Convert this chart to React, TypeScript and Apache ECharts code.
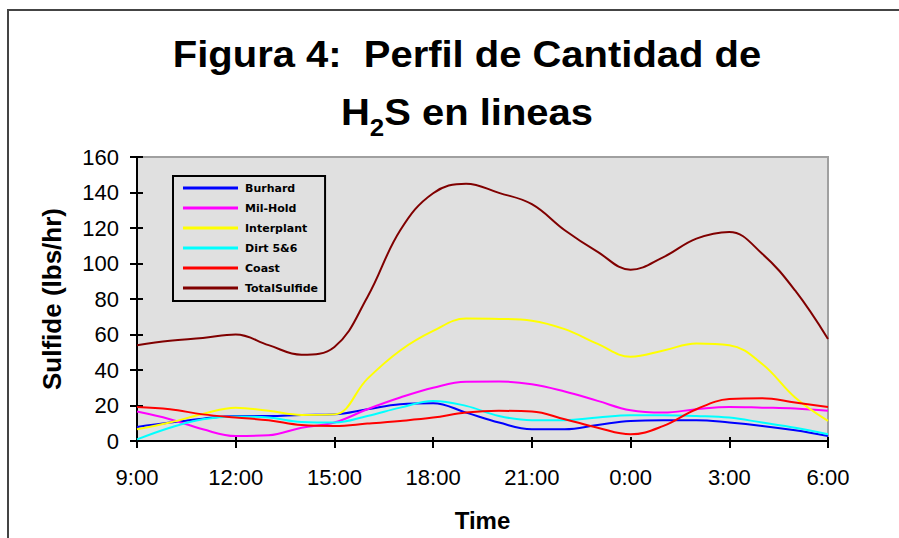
import React, { useEffect, useRef } from "react";
import * as echarts from "echarts";

const hours = [
  "9:00", "10:00", "11:00", "12:00", "13:00", "14:00", "15:00", "16:00",
  "17:00", "18:00", "19:00", "20:00", "21:00", "22:00", "23:00", "0:00",
  "1:00", "2:00", "3:00", "4:00", "5:00", "6:00",
];

const burhard = [7.9, 10.4, 12.6, 14.1, 14.1, 14.7, 15, 17.9, 20.7, 21.3, 16, 10.4, 6.6, 6.6, 9, 11.3, 11.7, 11.7, 10.4, 8.5, 6, 2.8];
const milHold = [16.6, 12.3, 6.6, 2.8, 3.2, 7.5, 10.4, 17.9, 24.5, 30, 33.4, 33.5, 32, 27.9, 22.6, 17.3, 16, 17.9, 19.2, 18.8, 18.3, 17];
const interplant = [6.6, 10.4, 15.2, 18.8, 17, 14.7, 15, 35, 51, 62, 69, 68.8, 67.8, 63, 54.7, 47.5, 51, 55, 54, 43.4, 24.5, 11.3];
const dirt56 = [0.9, 7.5, 12.3, 13.8, 13.2, 10.7, 10.4, 14.1, 18.8, 22.6, 19.8, 14.1, 11.7, 11.7, 13.2, 14.5, 14.5, 14.1, 13.2, 10.4, 7.5, 3.8];
const coast = [19.2, 17.9, 15, 13.2, 11.7, 9, 8.5, 9.8, 11.3, 13.2, 16, 17, 16.6, 12.3, 7.5, 3.8, 8.5, 17.9, 23.6, 24.1, 21.7, 19.2];
const totalSulfide = [54, 56.5, 58, 60, 54, 48.6, 53, 81, 118.7, 139.6, 145, 139.8, 133.4, 118.7, 106.5, 96.5, 103.6, 114, 117.8, 105.5, 84.8, 57.5];

const seriesNames = ["Burhard", "Mil-Hold", "Interplant", "Dirt 5&6", "Coast", "TotalSulfide"];
const seriesData = [burhard, milHold, interplant, dirt56, coast, totalSulfide];
const seriesColors = ["#0000ff", "#ff00ff", "#ffff00", "#00ffff", "#ff0000", "#800000"];

const titleLine1 = "Figura 4:  Perfil de Cantidad de";
const titleLine2a = "H";
const titleSub = "2";
const titleLine2b = "S en lineas";
const xName = "Time";
const yName = "Sulfide (lbs/hr)";

export default function App() {
  const ref = useRef<HTMLDivElement>(null);
  useEffect(() => {
    if (!ref.current) return;
    const chart = echarts.init(ref.current, null, { renderer: "svg" });
    const tickFont = { fontFamily: "Liberation Sans, Arial, sans-serif", fontSize: 22, color: "#000" };
    chart.setOption({
      animation: false,
      backgroundColor: "#ffffff",
      graphic: [
        {
          type: "rect",
          shape: { x: 8, y: 10, width: 1000, height: 1000 },
          style: { fill: "none", stroke: "#444444", lineWidth: 2 },
          silent: true,
        },
        {
          type: "text",
          x: 467,
          y: 36,
          scaleX: 1.08,
          style: {
            text: titleLine1,
            font: "bold 37px 'Liberation Sans', Arial, sans-serif",
            fill: "#000",
            align: "center",
            verticalAlign: "top",
          },
        },
        {
          type: "text",
          x: 467,
          y: 91,
          scaleX: 1.08,
          style: {
            text: `{n|${titleLine2a}}{s|${titleSub}}{n|${titleLine2b}}`,
            fill: "#000",
            align: "center",
            verticalAlign: "top",
            rich: {
              n: { fontFamily: "Liberation Sans, Arial, sans-serif", fontWeight: "bold", fontSize: 37, lineHeight: 40, verticalAlign: "bottom" },
              s: { fontFamily: "Liberation Sans, Arial, sans-serif", fontWeight: "bold", fontSize: 24, lineHeight: 40, verticalAlign: "bottom", padding: [0, 0, -8, 0] },
            },
          },
        },
      ],
      legend: {
        orient: "vertical",
        left: 173,
        top: 176,
        borderColor: "#000",
        borderWidth: 2,
        padding: [6, 7, 7, 10],
        itemWidth: 55,
        itemHeight: 3,
        itemGap: 8,
        icon: "rect",
        data: seriesNames,
        textStyle: {
          fontFamily: "DejaVu Sans",
          fontWeight: "bold",
          fontSize: 11,
          color: "#000",
          lineHeight: 12,
          padding: [0, 0, 0, 2],
        },
      },
      grid: {
        left: 137,
        top: 157,
        right: 71,
        bottom: 97,
        show: true,
        backgroundColor: "#e0e0e0",
        borderColor: "#a0a0a0",
        borderWidth: 2,
        containLabel: false,
        outerBoundsMode: "none",
      },
      xAxis: [
        {
          type: "category",
          data: hours,
          boundaryGap: false,
          name: xName,
          nameLocation: "middle",
          nameGap: 67,
          nameTextStyle: { fontFamily: "Liberation Sans, Arial, sans-serif", fontWeight: "bold", fontSize: 24, color: "#000" },
          axisLine: { lineStyle: { color: "#000", width: 2 } },
          axisTick: { interval: 2, length: 7, lineStyle: { color: "#000", width: 2 } },
          axisLabel: { interval: 2, margin: 25, ...tickFont },
          splitLine: { show: false },
        },
        {
          type: "category",
          data: hours,
          boundaryGap: false,
          position: "bottom",
          axisLine: { show: false },
          axisTick: { interval: 2, inside: true, length: 4, lineStyle: { color: "#000", width: 2 } },
          axisLabel: { show: false },
          splitLine: { show: false },
        },
      ],
      yAxis: [
        {
          type: "value",
          min: 0,
          max: 160,
          interval: 20,
          name: yName,
          nameLocation: "middle",
          nameGap: 72,
          nameRotate: 90,
          nameTextStyle: { fontFamily: "Liberation Sans, Arial, sans-serif", fontWeight: "bold", fontSize: 26, color: "#000" },
          axisLine: { show: true, lineStyle: { color: "#000", width: 2 } },
          axisTick: { show: true, length: 7, lineStyle: { color: "#000", width: 2 } },
          axisLabel: { margin: 18, ...tickFont },
          splitLine: { show: false },
        },
        {
          type: "value",
          min: 0,
          max: 160,
          interval: 20,
          position: "left",
          axisLine: { show: false },
          axisTick: { show: true, inside: true, length: 6, lineStyle: { color: "#000", width: 2 } },
          axisLabel: { show: false },
          splitLine: { show: false },
        },
      ],
      series: seriesNames.map((name, i) => ({
        name,
        type: "line",
        data: seriesData[i],
        xAxisIndex: 0,
        yAxisIndex: 0,
        smooth: 0.4,
        showSymbol: false,
        symbol: "none",
        lineStyle: { color: seriesColors[i], width: 2 },
        itemStyle: { color: seriesColors[i] },
      })),
    });
    return () => chart.dispose();
  }, []);
  return <div ref={ref} style={{ position: "fixed", left: 0, top: 0, width: 899, height: 538 }} />;
}
